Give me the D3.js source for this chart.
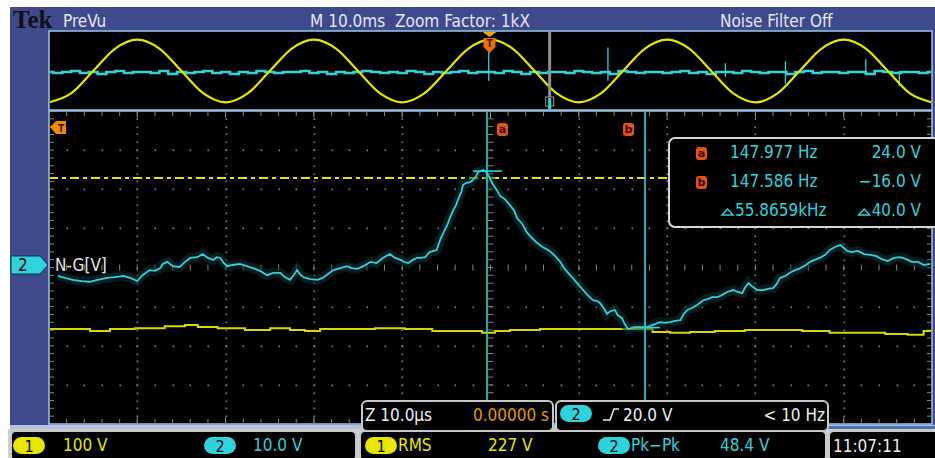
<!DOCTYPE html>
<html>
<head>
<meta charset="utf-8">
<script src="https://cdn.jsdelivr.net/npm/d3@7"></script>
<style>
body{margin:0;background:#fff;}
svg{display:block;}
text{font-family:"Liberation Sans Narrow","DejaVu Sans Condensed","Liberation Sans",sans-serif;white-space:pre;}
</style>
</head>
<body>
<script>
// ---- data ----
// zoomed window, time in us, ch2 in volts
var mainTime = [-49.0,-48.2,-47.3,-46.3,-45.4,-44.5,-43.4,-42.5,-41.6,-40.8,
  -40.0,-39.4,-38.6,-38.0,-37.4,-37.1,-36.6,-36.0,-35.2,-34.6,
  -34.0,-33.2,-32.6,-32.0,-31.4,-31.0,-30.6,-30.2,-29.8,-29.2,
  -28.4,-27.6,-26.9,-26.1,-25.3,-24.6,-23.8,-23.3,-22.7,-22.3,
  -21.9,-21.6,-21.2,-20.4,-19.6,-19.0,-18.4,-17.8,-17.0,-16.3,
  -15.7,-15.1,-14.4,-13.6,-12.9,-12.2,-11.4,-10.8,-10.2,-9.8,
  -9.3,-8.8,-8.3,-7.9,-7.4,-6.9,-6.1,-5.7,-5.3,-4.9,
  -4.6,-4.2,-3.9,-3.7,-3.3,-3.1,-2.7,-2.3,-2.0,-1.6,
  -1.4,-1.1,-0.8,-0.6,-0.4,-0.1,0.3,0.7,1.1,1.6,
  2.2,2.7,3.0,3.6,4.1,4.7,5.3,5.9,6.7,7.3,
  7.9,8.4,9.0,9.3,9.9,10.5,11.0,11.6,12.1,12.4,
  12.9,13.2,13.6,14.1,14.4,14.9,15.2,15.6,16.3,16.9,
  17.7,18.4,19.2,19.8,20.3,20.9,21.5,21.9,22.3,22.8,
  23.4,23.7,24.1,24.6,25.1,25.7,26.2,26.8,27.5,28.0,
  28.5,28.8,29.2,29.6,30.2,30.9,31.4,32.0,32.4,32.8,
  33.4,33.9,34.5,35.1,35.7,36.2,36.7,37.3,37.9,38.4,
  39.0,39.6,39.9,40.4,40.9,41.6,42.3,43.0,43.7,44.3,
  45.0,45.7,46.4,47.1,47.7,48.4,49.1,49.8];
var mainCh2 = [-2.8,-3.3,-3.8,-4.1,-4.3,-3.8,-3.3,-3.1,-2.8,-3.3,
  -4.1,-2.6,-1.3,-1.5,-0.8,0.3,0.8,-0.3,-0.5,0.8,
  1.8,2.0,2.8,1.8,1.3,2.0,1.8,0.5,-0.3,0,
  0.3,-0.3,-0.8,-1.5,-2.6,-2.0,-2.0,-3.1,-3.8,-2.6,
  -1.3,-2.3,-3.1,-3.6,-3.8,-3.3,-2.3,-1.3,-0.8,-0.3,
  -0.8,-1.0,-0.3,0.8,0.5,1.8,2.8,1.8,1.3,0.8,
  0.5,1.3,1.8,1.8,2.0,3.3,3.8,6.4,8.4,10.2,
  12.0,14.1,15.3,16.6,18.7,20.5,21.0,21.2,21.7,22.8,
  23.8,24.0,24.3,24.0,23.5,22.3,20.5,19.2,17.6,16.9,
  15.3,13.8,12.0,10.5,8.4,6.9,5.6,4.6,3.6,2.3,
  0.8,-1.0,-2.6,-3.3,-4.9,-6.4,-7.7,-9.0,-9.2,-9.7,
  -11.3,-12.5,-11.8,-11.5,-12.8,-13.6,-15.1,-16.4,-15.9,-15.9,
  -15.9,-15.3,-14.6,-14.8,-14.6,-14.3,-14.1,-12.5,-11.5,-11.0,
  -10.2,-9.7,-9.0,-8.7,-8.2,-8.2,-7.7,-6.9,-6.4,-6.9,
  -7.2,-5.9,-4.6,-5.4,-6.4,-6.4,-6.1,-5.9,-4.9,-3.3,
  -2.8,-2.0,-1.3,-0.8,0,0.8,1.3,1.8,2.6,3.8,
  4.6,5.1,4.6,3.6,3.3,3.6,2.8,2.6,2.3,1.5,
  1.0,1.8,2.0,1.5,0.8,0.8,0,0.3];
// ch1 in the zoomed window (volts)
var ch1Time = [-50,-46.5,-44.2,-42,-38.6,-35.2,-34,-32.3,-29.5,-26.1,
  -23.8,-21.6,-20.4,-18.2,-14.8,-11.4,-8,-5.2,-1.8,-0.1,
  1.1,3.3,7.9,12.4,17.5,19.2,21.5,23.7,27.1,30.5,
  33.9,36.7,40.1,43,46.4,48.1,50];
var ch1Main = [-157,-157,-162,-157,-155,-150,-147,-152,-155,-160,
  -155,-160,-162,-157,-157,-155,-157,-162,-162,-167,
  -162,-160,-157,-157,-157,-165,-167,-165,-162,-160,
  -160,-162,-167,-167,-170,-172,-162];
var ch1Level = 229; // dashed line, volts

// overview (PreVu), time in ms
var ovTime = [-50,-47.5,-45,-42.5,-40,-37.5,-35,-32.5,-30,-27.5,-25,-22.5,-20,-17.5,-15,-12.5,-10,-7.5,-5,-2.5,
  0,2.5,5,7.5,10,12.5,15,17.5,20,22.5,25,27.5,30,32.5,35,37.5,40,42.5,45,47.5,50];
var ovCh1 = [-321,-230,0,230,321,230,0,-230,-321,-230,0,230,321,230,0,-230,-321,-230,0,230,
  321,230,0,-230,-321,-230,0,230,321,230,0,-230,-321,-230,0,230,321,230,0,-230,-321];
var ovCh2 = [-1,-2,-1,0,-2,-1,-3,-1,0,-2, -1,-1,-2,0,-3,-1,-2,-1,0,-2,
  -1,-3,-1,-2,0,-1,-2,-1,-1,0, -2,-1,-3,-1,-2,-1,0,-1,-2,-1,
  -2,0,-1,-3,-1,-2,-1,0,-2,-1, -1,-2,0,-1,-3,-1,-2,-1,-1,-2,
  0,-1,-2,-1,-3,0,-1,-2,-1,-1, -2,-1,0,-2,-1,-3,-1,-1,-2,0,
  -1,-2,-1,-1,-3,-1,0,-2,-1,-1, -2,-1,-1,-3,0,-1,-2,-1,-1,-2, -1];
var spikeTime = [-0.2, 13.3, 26.6, 33.4, 42.5, 46.3];
var spikeHigh = [24, 24, 8, 10, 12, 0];
var spikeLow = [-10, -10, -6, -13, -4, -15];
var zoomMark = 6.7;

// cursors
var cursorTime = [-0.4, 17.5];
var cursorVolt = [24.0, -16.0];
var cursorName = ["a", "b"];
var readFreq = ["147.977 Hz", "147.586 Hz", "55.8659kHz"];
var readVolt = ["24.0 V", "\u221216.0 V", "40.0 V"];

function init(){
    var w = 935, h = 458;
    var L = 49, R = 932, T = 111, B = 424;
    var yellow = "#e6e600", cyan = "#2fd3dc", grid = "#85857a";

    var svg = d3.select("body").append("svg")
        .attr("width", w).attr("height", h);

    function txt(x, y, s, col, size, anchor){
        return svg.append("text").attr("x", x).attr("y", y).text(s)
            .attr("fill", col).attr("font-size", size)
            .attr("text-anchor", anchor || "start");
    }
    function icon(x, y, s){
        svg.append("rect").attr("x", x).attr("y", y).attr("width", 11).attr("height", 13)
            .attr("rx", 3).attr("fill", "#e6501a");
        svg.append("text").attr("x", x + 5.5).attr("y", y + 10).text(s)
            .attr("text-anchor", "middle").attr("font-size", 11).attr("font-weight", "bold")
            .style("font-family", "DejaVu Sans").attr("fill", "#3a0a00");
    }

    // blue frame
    svg.append("rect").attr("x", 10).attr("y", 7).attr("width", 925).attr("height", 420)
        .attr("fill", "#3f4a8c");

    // header
    svg.append("text").attr("x", 13).attr("y", 28).text("Tek")
        .style("font-family", "Liberation Serif").attr("font-weight", "bold")
        .attr("font-size", 25).attr("fill", "#111");
    txt(63, 27, "PreVu", "#e4e6f0", 17);
    txt(310, 27, "M 10.0ms  Zoom Factor: 1kX", "#e4e6f0", 17)
        .attr("textLength", 220).attr("lengthAdjust", "spacingAndGlyphs");
    txt(720, 27, "Noise Filter Off", "#e4e6f0", 17);

    // scales
    var xOv = d3.scaleLinear().domain([-50, 50]).range([L, R]);
    var yOv = d3.scaleLinear().domain([-4, 4]).range([110, 32]);
    var xMain = d3.scaleLinear().domain([-50, 50]).range([L, R]);
    var yDiv = d3.scaleLinear().domain([-4, 4]).range([B, T]);
    var ch2Pos = 0.064;
    function yCh2(v){ return yDiv(v / 10 + ch2Pos); }
    function yCh1(v){ return yDiv(v / 100); }

    // ---- overview ----
    svg.append("rect").attr("x", L).attr("y", 31).attr("width", R - L).attr("height", 79)
        .attr("fill", "#000").attr("stroke", "#9cc6e6").attr("stroke-width", 1.5);
    var ovG = svg.append("g");
    svg.append("clipPath").attr("id", "ovclip").append("rect")
        .attr("x", L + 1).attr("y", 32).attr("width", R - L - 2).attr("height", 77);
    ovG.attr("clip-path", "url(#ovclip)");

    var ovNoise = d3.zip(d3.range(-50, 51, 1), ovCh2);
    ovG.append("path").datum(ovNoise)
        .attr("d", d3.line().x(function(d){ return xOv(d[0]); })
            .y(function(d){ return yOv(d[1] / 10); }).curve(d3.curveStep))
        .attr("fill", "none").attr("stroke", cyan).attr("stroke-width", 2.6);
    ovG.selectAll("line.spike").data(d3.range(spikeTime.length)).enter()
        .append("line").attr("class", "spike")
        .attr("x1", function(i){ return xOv(spikeTime[i]); })
        .attr("x2", function(i){ return xOv(spikeTime[i]); })
        .attr("y1", function(i){ return yOv(spikeHigh[i] / 10); })
        .attr("y2", function(i){ return yOv(spikeLow[i] / 10); })
        .attr("stroke", cyan).attr("stroke-width", 1.3);
    ovG.append("path").datum(d3.zip(ovTime, ovCh1))
        .attr("d", d3.line().x(function(d){ return xOv(d[0]); })
            .y(function(d){ return yOv(d[1] / 100); }).curve(d3.curveMonotoneX))
        .attr("fill", "none").attr("stroke", yellow).attr("stroke-width", 2.2);

    // zoom position bar
    var zx = xOv(zoomMark);
    ovG.append("rect").attr("x", zx - 1.5).attr("y", 32).attr("width", 3).attr("height", 78)
        .attr("fill", "#8f8f8f");
    ovG.append("rect").attr("x", zx - 4).attr("y", 97).attr("width", 8).attr("height", 9)
        .attr("fill", "#000").attr("stroke", "#9a9a9a").attr("stroke-width", 1);
    ovG.append("rect").attr("x", zx - 1.5).attr("y", 98).attr("width", 3).attr("height", 12)
        .attr("fill", cyan);

    // trigger marker on overview
    var tx = xOv(0) - 1;
    svg.append("path").attr("d", "M" + (tx - 7) + ",32 L" + (tx + 7) + ",32 L" + tx + ",37 Z")
        .attr("fill", "#f4a300");
    svg.append("path").attr("d", "M" + (tx - 6) + ",38 L" + (tx + 6) + ",38 L" + (tx + 6) + ",47 L" + tx + ",53 L" + (tx - 6) + ",47 Z")
        .attr("fill", "#e87010");
    svg.append("text").attr("x", tx).attr("y", 47).text("T").attr("text-anchor", "middle")
        .attr("font-size", 10).attr("font-weight", "bold").attr("fill", "#5a1a00");

    // ---- main graticule ----
    svg.append("rect").attr("x", L).attr("y", T).attr("width", R - L).attr("height", B - T)
        .attr("fill", "#000").attr("stroke", "#9cc6e6").attr("stroke-width", 1.5);

    var xDiv = d3.scaleLinear().domain([0, 50]).range([L, R]);   // fifths of a division
    var yFifth = d3.scaleLinear().domain([0, 40]).range([T, B]);
    var gG = svg.append("g");
    var dots = [];
    d3.range(1, 10).forEach(function(i){
        if (i === 5) return;
        d3.range(1, 40).forEach(function(k){ dots.push([xDiv(i * 5), yFifth(k)]); });
    });
    d3.range(1, 8).forEach(function(j){
        if (j === 4) return;
        d3.range(1, 50).forEach(function(k){ dots.push([xDiv(k), yFifth(j * 5)]); });
    });
    gG.selectAll("rect.dot").data(dots).enter().append("rect").attr("class", "dot")
        .attr("x", function(d){ return Math.round(d[0]) - 0.5; })
        .attr("y", function(d){ return Math.round(d[1]) - 0.5; })
        .attr("width", 1.6).attr("height", 1.6).attr("fill", grid);

    // center axes and edge ticks
    var cx = xDiv(25), cy = yFifth(20);
    var ticks = [];
    d3.range(1, 40).forEach(function(k){
        ticks.push([cx - 3, yFifth(k), cx + 3, yFifth(k)]);
        ticks.push([L, yFifth(k), L + 5, yFifth(k)]);
        ticks.push([R - 5, yFifth(k), R, yFifth(k)]);
    });
    d3.range(1, 50).forEach(function(k){
        ticks.push([xDiv(k), cy - 3, xDiv(k), cy + 3]);
        ticks.push([xDiv(k), T, xDiv(k), T + 5]);
        ticks.push([xDiv(k), B - 5, xDiv(k), B]);
    });
    gG.selectAll("line.tk").data(ticks).enter().append("line").attr("class", "tk")
        .attr("x1", function(d){ return d[0]; }).attr("y1", function(d){ return d[1]; })
        .attr("x2", function(d){ return d[2]; }).attr("y2", function(d){ return d[3]; })
        .attr("stroke", grid).attr("stroke-width", 1);
    d3.range(1, 10).forEach(function(i){
        gG.append("line").attr("x1", xDiv(i * 5)).attr("x2", xDiv(i * 5))
            .attr("y1", T).attr("y2", T + 7).attr("stroke", grid);
        gG.append("line").attr("x1", xDiv(i * 5)).attr("x2", xDiv(i * 5))
            .attr("y1", B - 7).attr("y2", B).attr("stroke", grid);
    });

    var mG = svg.append("g");
    svg.append("clipPath").attr("id", "mclip").append("rect")
        .attr("x", L + 1).attr("y", T + 1).attr("width", R - L - 2).attr("height", B - T - 2);
    mG.attr("clip-path", "url(#mclip)");

    // dashed level line
    mG.append("line").attr("x1", L).attr("x2", R)
        .attr("y1", yCh1(ch1Level)).attr("y2", yCh1(ch1Level))
        .attr("stroke", yellow).attr("stroke-width", 2).attr("stroke-dasharray", "9,4,4,4");

    // ch1 trace
    mG.append("path").datum(d3.zip(ch1Time, ch1Main))
        .attr("d", d3.line().x(function(d){ return xMain(d[0]); })
            .y(function(d){ return yCh1(d[1]); }).curve(d3.curveStep))
        .attr("fill", "none").attr("stroke", "#d8d800").attr("stroke-width", 2);

    // ch2 trace with faint intensity glow
    var ch2Line = d3.line().x(function(d){ return xMain(d[0]); })
        .y(function(d){ return yCh2(d[1]); });
    var ch2Data = d3.zip(mainTime, mainCh2);
    mG.append("path").datum(ch2Data).attr("d", ch2Line)
        .attr("fill", "none").attr("stroke", "#0b2f31").attr("stroke-width", 10)
        .attr("stroke-linejoin", "miter").attr("opacity", 0.55);
    mG.append("path").datum(ch2Data).attr("d", ch2Line)
        .attr("fill", "none").attr("stroke", cyan).attr("stroke-width", 1.8);

    // cursors
    cursorTime.forEach(function(t, i){
        var x = xMain(t), y = yCh2(cursorVolt[i]);
        mG.append("line").attr("x1", x).attr("x2", x).attr("y1", T).attr("y2", B)
            .attr("stroke", cyan).attr("stroke-width", 1.6);
        mG.append("line").attr("x1", x - 14).attr("x2", x + 15).attr("y1", y).attr("y2", y)
            .attr("stroke", cyan).attr("stroke-width", 1.6);
        icon(i === 1 ? x - 22 : x + 10, 123, cursorName[i]);
    });

    // trigger flag on main
    svg.append("path").attr("d", "M50,127 L56,121 L66,121 L66,134 L56,134 Z").attr("fill", "#f08c00");
    svg.append("text").attr("x", 61).attr("y", 132).text("T").attr("text-anchor", "middle")
        .attr("font-size", 10).attr("font-weight", "bold").attr("fill", "#3a1000");

    // ch2 ground marker and label
    var gy = yCh2(0);
    svg.append("path").attr("d", "M11," + (gy - 9) + " L40," + (gy - 9) + " L48," + gy + " L40," + (gy + 9) + " L11," + (gy + 9) + " Z")
        .attr("fill", cyan).attr("stroke", "#0a3a40").attr("stroke-width", 1);
    txt(18, gy + 6, "2", "#000", 17);
    txt(55, gy + 6, "N-G[V]", "#e6e6e6", 17);

    // readout box
    svg.append("rect").attr("x", 669).attr("y", 138).attr("width", 280).attr("height", 89)
        .attr("rx", 6).attr("fill", "#000").attr("stroke", "#d6d6d6").attr("stroke-width", 2);
    var rowY = [158, 187, 216];
    rowY.forEach(function(y, i){
        if (i < 2){
            icon(696, y - 11, cursorName[i]);
            txt(730, y, readFreq[i], cyan, 17);
            txt(921, y, readVolt[i], cyan, 17, "end");
        } else {
            txt(735, y, readFreq[i], cyan, 17);
            var vt = txt(921, y, readVolt[i], cyan, 17, "end");
            var vx = 921 - vt.node().getComputedTextLength() - 13;
            [722, vx].forEach(function(dx){
                svg.append("path").attr("d", "M" + dx + "," + (y - 1) + " L" + (dx + 11) + "," + (y - 1) + " L" + (dx + 5.5) + "," + (y - 7) + " Z")
                    .attr("fill", "none").attr("stroke", cyan).attr("stroke-width", 1.5);
            });
        }
    });

    // ---- bottom area ----
    svg.append("rect").attr("x", 10).attr("y", 425).attr("width", 925).attr("height", 4)
        .attr("fill", "#b4c2dc");
    svg.append("rect").attr("x", 828).attr("y", 426).attr("width", 107).attr("height", 4)
        .attr("fill", "#4d70b6");
    svg.append("rect").attr("x", 8).attr("y", 429).attr("width", 927).attr("height", 29)
        .attr("fill", "#cfcfcf");

    function box(x, y, bw, bh){
        svg.append("rect").attr("x", x).attr("y", y).attr("width", bw).attr("height", bh)
            .attr("rx", 5).attr("fill", "#000").attr("stroke", "#c8c8c8").attr("stroke-width", 2);
    }
    function pill(x, y, col, s){
        svg.append("rect").attr("x", x).attr("y", y).attr("width", 32).attr("height", 17)
            .attr("rx", 8.5).attr("fill", col);
        svg.append("text").attr("x", x + 16).attr("y", y + 14.5).text(s).attr("text-anchor", "middle")
            .attr("font-size", 16).attr("fill", "#000");
    }

    // zoom and trigger boxes over the graticule bottom
    box(362, 401, 191, 30);
    box(556, 401, 272, 30);
    txt(365, 421, "Z 10.0\u00b5s", "#eeeeee", 17);
    txt(549, 421, "0.00000 s", "#e89a00", 17, "end");
    pill(560, 405, cyan, "2");
    svg.append("path").attr("d", "M603,420 L610,420 L614,409 L619,409")
        .attr("fill", "none").attr("stroke", "#eeeeee").attr("stroke-width", 1.5);
    txt(623, 421, "20.0 V", "#eeeeee", 17);
    txt(825, 421, "< 10 Hz", "#eeeeee", 17, "end");

    box(11, 431, 345, 30);
    box(360, 431, 466, 30);
    box(829, 431, 110, 30);
    pill(13, 437, yellow, "1");
    txt(63, 451, "100 V", yellow, 17);
    pill(204, 437, cyan, "2");
    txt(253, 451, "10.0 V", cyan, 17);
    pill(365, 437, yellow, "1");
    txt(398, 451, "RMS", yellow, 17);
    txt(488, 451, "227 V", yellow, 17);
    pill(598, 437, cyan, "2");
    txt(631, 451, "Pk\u2212Pk", cyan, 17);
    txt(720, 451, "48.4 V", cyan, 17);
    txt(833, 452, "11:07:11", "#eeeeee", 17);
}

window.onload = init;
</script>
</body>
</html>
